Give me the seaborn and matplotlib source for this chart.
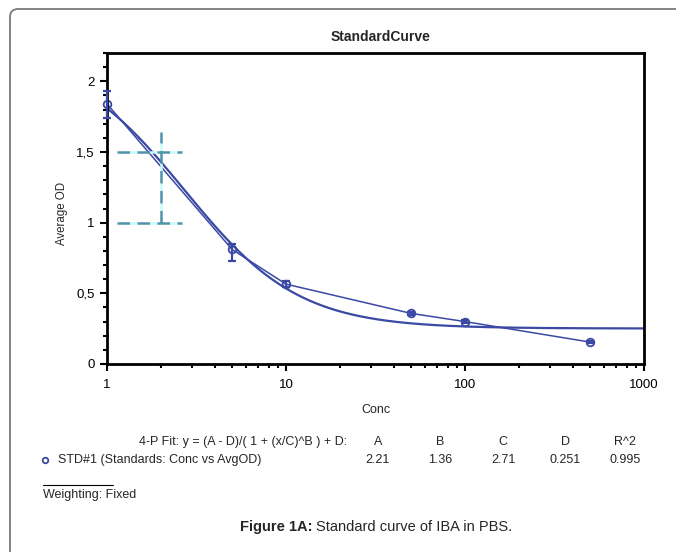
import numpy as np
import pandas as pd
import matplotlib
matplotlib.use('Agg')
import matplotlib.pyplot as plt
import seaborn as sns
from matplotlib.patches import FancyBboxPatch
from matplotlib.transforms import IdentityTransform
from matplotlib.ticker import FixedLocator, MultipleLocator, FuncFormatter

# standards (conc vs average OD)
conc = [1, 5, 10, 50, 100, 500]
avg_od = [1.84, 0.81, 0.565, 0.358, 0.30, 0.155]
od_low = [1.74, 0.73, 0.545, 0.345, 0.292, 0.148]
od_high = [1.93, 0.85, 0.59, 0.37, 0.308, 0.162]

# 4-P fit parameters shown under the chart
fit_names = ['A', 'B', 'C', 'D', 'R^2']
fit_values = ['2.21', '1.36', '2.71', '0.251', '0.995']
A, B, C, D = 2.21, 1.36, 2.71, 0.251

# cyan crosshair marks
cross_y = [1.5, 1.0]
cross_x0, cross_x1 = 1.14, 2.62
cross_vx = 2.0
cross_vy = [1.0, 1.64]

sns.set_style('white')
plt.rcParams['font.family'] = ['Liberation Sans', 'DejaVu Sans']

W, H = 676, 552
fig = plt.figure(figsize=(W / 100, H / 100), dpi=100)
ax = fig.add_axes([107 / W, 1 - 364 / H, (644 - 107) / W, (364 - 53) / H])

blue = '#3a49a3'
df = pd.DataFrame({'Conc': conc, 'AvgOD': avg_od})

# fitted 4-P curve
xf = np.logspace(0, 3, 400)
fit = pd.DataFrame({'Conc': xf, 'AvgOD': (A - D) / (1 + (xf / C) ** B) + D})
sns.lineplot(data=fit, x='Conc', y='AvgOD', ax=ax, color=blue, lw=1.6)

# point-to-point line with markers
sns.lineplot(data=df, x='Conc', y='AvgOD', ax=ax, color=blue, lw=1.1,
             marker='o', markersize=5.5, markerfacecolor='none',
             markeredgecolor=blue, markeredgewidth=1.3, clip_on=False)
yerr = [np.array(avg_od) - np.array(od_low), np.array(od_high) - np.array(avg_od)]
ax.errorbar(conc, avg_od, yerr=yerr, fmt='none', ecolor=blue, elinewidth=1.6,
            capsize=3, capthick=1.6, clip_on=False, zorder=5)

# crosshair
for yv in cross_y:
    ax.plot([cross_x0, cross_x1], [yv, yv], color='#4f93ac', gapcolor='#c8fafa',
            lw=1.8, dashes=(5, 3))
ax.plot([cross_vx, cross_vx], cross_vy, color='#4f93ac', gapcolor='#c8fafa',
        lw=1.8, dashes=(5, 3))

ax.set_xscale('log')
ax.set_xlim(1, 1000)
ax.set_ylim(0, 2.2)
ax.yaxis.set_major_locator(FixedLocator([0, 0.5, 1, 1.5, 2]))
ax.yaxis.set_minor_locator(MultipleLocator(0.1))
ax.yaxis.set_major_formatter(FuncFormatter(lambda v, p: ('%g' % v).replace('.', ',')))
ax.xaxis.set_major_formatter(FuncFormatter(lambda v, p: '%g' % v))
ax.set_xlabel('')
ax.set_ylabel('')
ax.tick_params(which='both', direction='out', bottom=True, left=True,
               colors='black', labelsize=9.5, width=1.5)
ax.tick_params(which='major', length=5)
ax.tick_params(axis='x', which='major', pad=6)
ax.tick_params(axis='y', which='major', pad=4)
ax.tick_params(which='minor', length=3)
for s in ax.spines.values():
    s.set_color('black')
    s.set_linewidth(2)

def ftext(x, y, s, **kw):
    return fig.text(x / W, 1 - y / H, s, **kw)

ftext(381, 37, 'StandardCurve', ha='center', va='center', fontsize=10, fontweight='bold')
ftext(62, 213, 'Average OD', ha='center', va='center', rotation=90, fontsize=8.3)
ftext(376, 410, 'Conc', ha='center', va='center', fontsize=9)

fs = 9
ftext(347, 442, '4-P Fit: y = (A - D)/( 1 + (x/C)^B ) + D:', ha='right', va='center', fontsize=fs)
fig.add_artist(plt.Line2D([45 / W], [1 - 460 / H], marker='o', markersize=4,
                          markerfacecolor='none', markeredgecolor=blue, markeredgewidth=1.3))
ftext(58, 460, 'STD#1 (Standards: Conc vs AvgOD)', ha='left', va='center', fontsize=fs)
col_x = [378, 440, 503, 565, 625]
for cx, name, val in zip(col_x, fit_names, fit_values):
    ftext(cx, 442, name, ha='center', va='center', fontsize=fs)
    ftext(cx, 460, val, ha='center', va='center', fontsize=fs)
fig.add_artist(plt.Line2D([43 / W, 113 / W], [1 - 485 / H, 1 - 485 / H], color='black', lw=0.8))
ftext(43, 495, 'Weighting: Fixed', ha='left', va='center', fontsize=fs)

# caption: bold lead + regular text
cap = ftext(240, 527, 'Figure 1A:', ha='left', va='center', fontsize=10.5, fontweight='bold')
fig.canvas.draw()
bb = cap.get_window_extent()
fig.text((bb.x1 + 4) / W, 1 - 527 / H, 'Standard curve of IBA in PBS.',
         ha='left', va='center', fontsize=10.5)

# outer rounded frame
frame = FancyBboxPatch((10, -20), 700, H - 9 + 20, boxstyle='round,pad=0,rounding_size=8',
                       transform=IdentityTransform(), facecolor='none',
                       edgecolor='#7a7a7a', lw=1.3)
fig.patches.append(frame)

fig.savefig('out.png', dpi=100)
